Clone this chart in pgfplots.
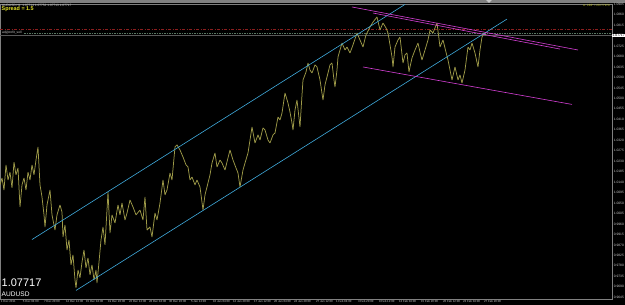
\documentclass[border=0pt]{standalone}
\usepackage{fontspec}
\setmainfont{Liberation Sans}
\usepackage{pgfplots}
\pgfplotsset{compat=1.18}
\definecolor{barc}{RGB}{158,154,72}
\definecolor{chan}{RGB}{64,172,222}
\definecolor{mag}{RGB}{214,64,214}
\definecolor{dred}{RGB}{140,30,30}
\definecolor{dgrn}{RGB}{90,120,100}
\definecolor{framec}{RGB}{128,128,128}
\definecolor{lbl}{RGB}{200,200,200}
\definecolor{ylw}{RGB}{230,230,40}
\begin{document}
\begin{tikzpicture}
\fill[black] (0,-6pt) rectangle (625pt,299pt);
\fill[framec] (0,296pt) rectangle (625pt,299pt);
\fill[lbl] (486pt,299pt) -- (492pt,299pt) -- (489pt,296pt) -- cycle;
\begin{axis}[at={(0,0)},anchor=south west,scale only axis,width=612pt,height=295pt,
 xmin=0,xmax=612,ymin=0.96373,ymax=1.09058,
 axis line style={framec,line width=0.5pt},
 tick style={framec,line width=0.4pt},
 tick align=outside, major tick length=1.2pt,
 xtick pos=bottom, ytick pos=right,
 xtick={0,22,43,65,85,107,128,148,168,190,212,232,253,273,293,315,335,357,378,398,420,442,462,483},
 xticklabels={1 Dec 2011,5 Dec 04:00,7 Dec 20:00,12 Dec 12:00,15 Dec 04:00,19 Dec 20:00,22 Dec 12:00,28 Dec 04:00,30 Dec 20:00,5 Jan 12:00,10 Jan 04:00,12 Jan 20:00,17 Jan 12:00,20 Jan 04:00,24 Jan 20:00,27 Jan 12:00,1 Feb 04:00,3 Feb 20:00,8 Feb 12:00,13 Feb 04:00,15 Feb 20:00,20 Feb 12:00,23 Feb 04:00,27 Feb 20:00},
 xticklabel style={font=\fontsize{2.9pt}{3pt}\selectfont,text=lbl,anchor=north west,inner sep=0.4pt,xshift=0.4pt},
 ytick={0.9645,0.9690,0.9735,0.9780,0.9825,0.9870,0.9915,0.9960,1.0005,1.0050,1.0095,1.0140,1.0185,1.0230,1.0275,1.0320,1.0365,1.0410,1.0455,1.0500,1.0545,1.0590,1.0635,1.0680,1.0725,1.0770,1.0815,1.0860,1.0905},
 yticklabel style={font=\fontsize{3.3pt}{3.5pt}\selectfont,text=lbl,inner sep=0.4pt,
   /pgf/number format/.cd,fixed,fixed zerofill,precision=4,assume math mode=true},
 scaled y ticks=false,
]
% horizontal levels
\addplot[dred,line width=0.5pt,dash pattern=on 3pt off 1.5pt on 1pt off 1.5pt] coordinates {(0,1.0798) (612,1.0798)};
\addplot[dgrn,line width=0.5pt,dash pattern=on 1.5pt off 1pt] coordinates {(24,1.0779) (612,1.0779)};
\addplot[framec!70!black,line width=0.5pt] coordinates {(0,1.07717) (612,1.07717)};
% price bars
\addplot[barc,line width=0.75pt,line join=bevel] coordinates {
(0,1.0128) (2,1.0158) (4,1.0106) (6,1.0214) (8,1.0149) (10,1.0183) (12,1.0115) (14,1.0226) (16,1.0171) (18,1.0201)
(20,1.0033) (22,1.0128) (24,1.0158) (26,1.0106) (28,1.0183) (30,1.0149) (32,1.0214) (34,1.0171) (36,1.0235) (38,1.0291)
(40,1.0128) (42,1.0076) (44,0.9999) (45,0.9947) (47,1.0042) (50,1.0106) (52,0.9999) (55,0.9934) (57,0.9999) (60,1.0042)
(62,1.0011) (63,0.9904) (65,0.9956) (67,0.9848) (69,0.9891) (71,0.9784) (73,0.9827) (75,0.9719) (76,0.9685) (78,0.9762)
(80,0.9728) (82,0.9796) (84,0.9848) (86,0.9771) (88,0.9814) (90,0.9741) (92,0.9784) (94,0.9719) (96,0.9762) (97,0.9706)
(99,0.9796) (101,0.9891) (103,0.9947) (105,0.9870) (107,1.0020) (108,1.0097) (110,0.9921) (112,0.9999) (115,0.9964) (118,1.0042)
(120,0.9999) (122,1.0050) (125,0.9977) (127,1.0007) (130,1.0063) (133,1.0033) (136,0.9999) (140,1.0020) (143,0.9977) (145,1.0076)
(147,0.9934) (150,0.9947) (152,0.9904) (155,1.0007) (157,0.9977) (160,1.0050) (163,1.0149) (165,1.0085) (167,1.0106) (170,1.0179)
(172,1.0149) (175,1.0291) (177,1.0300) (180,1.0278) (183,1.0248) (186,1.0214) (188,1.0205) (190,1.0149) (192,1.0162) (195,1.0128)
(197,1.0149) (200,1.0119) (203,1.0020) (205,1.0085) (207,1.0119) (210,1.0171) (212,1.0222) (215,1.0265) (217,1.0205) (220,1.0235)
(222,1.0222) (225,1.0192) (228,1.0244) (230,1.0278) (233,1.0235) (236,1.0201) (238,1.0179) (240,1.0119) (243,1.0192) (245,1.0222)
(248,1.0265) (250,1.0321) (252,1.0377) (255,1.0308) (258,1.0343) (260,1.0321) (263,1.0373) (265,1.0364) (268,1.0321) (270,1.0308)
(273,1.0343) (275,1.0351) (278,1.0420) (280,1.0407) (282,1.0437) (285,1.0523) (288,1.0480) (290,1.0441) (292,1.0394) (293,1.0364)
(295,1.0450) (297,1.0493) (300,1.0377) (302,1.0515) (303,1.0579) (306,1.0613) (308,1.0652) (310,1.0622) (312,1.0609) (315,1.0644)
(317,1.0635) (320,1.0579) (323,1.0493) (325,1.0558) (328,1.0609) (330,1.0644) (332,1.0652) (334,1.0579) (335,1.0549) (337,1.0622)
(338,1.0678) (340,1.0708) (342,1.0738) (345,1.0708) (347,1.0721) (350,1.0695) (353,1.0730) (357,1.0781) (360,1.0751) (363,1.0721)
(366,1.0773) (370,1.0807) (373,1.0828) (377,1.0850) (380,1.0794) (383,1.0824) (386,1.0803) (388,1.0781) (390,1.0730) (392,1.0678)
(393,1.0635) (395,1.0721) (398,1.0751) (400,1.0764) (403,1.0652) (405,1.0687) (407,1.0695) (409,1.0613) (410,1.0635) (412,1.0674)
(415,1.0708) (418,1.0738) (420,1.0699) (422,1.0665) (425,1.0708) (428,1.0751) (430,1.0794) (433,1.0781) (435,1.0803) (437,1.0824)
(440,1.0721) (443,1.0751) (446,1.0699) (448,1.0665) (450,1.0622) (452,1.0579) (455,1.0635) (458,1.0579) (460,1.0601) (462,1.0566)
(465,1.0622) (468,1.0721) (470,1.0708) (472,1.0738) (475,1.0695) (478,1.0635) (480,1.0708) (482,1.0764) (484,1.0781) (486,1.0772)
};
% trend channel (blue)
\addplot[chan,line width=0.6pt] coordinates {(32,0.9893) (405,1.0904)};
\addplot[chan,line width=0.6pt] coordinates {(76,0.9674) (507,1.0841)};
% magenta lines
\addplot[mag,line width=0.6pt] coordinates {(352,1.0893) (578,1.0708)};
\addplot[mag,line width=0.6pt] coordinates {(373,1.0867) (560,1.0712)};
\addplot[mag,line width=0.6pt] coordinates {(363,1.0635) (572,1.0474)};
\end{axis}
% texts
\node[anchor=west,inner sep=0pt,text=lbl,font=\fontsize{3.2pt}{3.4pt}\selectfont] at (2pt,293.8pt) {AUDUSD,H1\ \ 1.07714 1.07752 1.07713 1.07717};
\node[anchor=west,inner sep=0pt,text=ylw,font=\bfseries\fontsize{5.4pt}{6pt}\selectfont] at (1.5pt,290pt) {Spread = 1.5};
\node[anchor=west,inner sep=0pt,text=lbl,font=\fontsize{3.3pt}{3.5pt}\selectfont] at (2pt,266.8pt) {adj/profit\_sell};
\node[anchor=east,inner sep=0pt,text=ylw!85!black,font=\fontsize{3pt}{3.2pt}\selectfont] at (610pt,293.2pt) {A: CBP = 20+77979};
\node[anchor=west,inner sep=0pt,text=white,font=\fontsize{11pt}{12pt}\selectfont] at (1.5pt,16.5pt) {1.07717};
\node[anchor=west,inner sep=0pt,text=white,font=\fontsize{6.6pt}{7pt}\selectfont] at (1.5pt,4.5pt) {AUDUSD};
\node[anchor=west,fill=white,text=black,inner sep=0.5pt,font=\fontsize{3.3pt}{3.5pt}\selectfont] at (612pt,263.8pt) {1.07717};
\pgfresetboundingbox
\path (0,-6pt) rectangle (625pt,299pt);
\end{tikzpicture}
\end{document}
